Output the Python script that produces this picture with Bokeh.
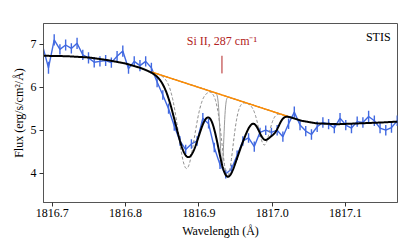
import numpy as np
from bokeh.plotting import figure
from bokeh.models import Range1d, Label, FixedTicker, NumeralTickFormatter
from bokeh.embed import file_html
from bokeh.resources import INLINE

# ---- observed spectrum (flux in units of 1e-11) ----
wave = [1816.6870, 1816.6948, 1816.7026, 1816.7104, 1816.7182, 1816.7260, 1816.7338,
        1816.7416, 1816.7494, 1816.7572, 1816.7650, 1816.7728, 1816.7806, 1816.7884,
        1816.7962, 1816.8040, 1816.8118, 1816.8196, 1816.8274, 1816.8352, 1816.8430,
        1816.8508, 1816.8586, 1816.8664, 1816.8742, 1816.8820, 1816.8898, 1816.8976,
        1816.9054, 1816.9132, 1816.9210, 1816.9288, 1816.9366, 1816.9444, 1816.9522,
        1816.9600, 1816.9678, 1816.9756, 1816.9834, 1816.9912, 1816.9990, 1817.0068,
        1817.0146, 1817.0224, 1817.0302, 1817.0380, 1817.0458, 1817.0536, 1817.0614,
        1817.0692, 1817.0770, 1817.0848, 1817.0926, 1817.1004, 1817.1082, 1817.1160,
        1817.1238, 1817.1316, 1817.1394, 1817.1472, 1817.1550, 1817.1628, 1817.1706]
flux = [6.95, 6.45, 7.10, 6.88, 6.98, 6.90, 7.02,
        6.75, 6.68, 6.58, 6.60, 6.62, 6.57, 6.72,
        6.84, 6.43, 6.60, 6.50, 6.60, 6.45, 6.12,
        5.82, 5.50, 5.10, 4.75, 4.55, 4.68, 4.75,
        5.28, 5.15, 4.60, 4.20, 3.98, 4.10, 4.42,
        4.75, 4.82, 4.62, 4.95, 5.00, 4.95, 5.00,
        4.85, 5.15, 5.42, 5.12, 4.98, 4.90, 5.08,
        5.18, 5.14, 5.05, 5.28, 5.12, 5.05, 5.20,
        5.18, 5.32, 5.22, 5.05, 5.00, 5.06, 5.22]
err = [0.13, 0.14, 0.13, 0.12, 0.13, 0.12, 0.13,
       0.12, 0.13, 0.12, 0.12, 0.13, 0.12, 0.12,
       0.13, 0.12, 0.12, 0.13, 0.12, 0.12, 0.12,
       0.11, 0.12, 0.11, 0.11, 0.11, 0.11, 0.11,
       0.12, 0.11, 0.11, 0.10, 0.10, 0.10, 0.11,
       0.11, 0.11, 0.12, 0.11, 0.11, 0.11, 0.12,
       0.12, 0.12, 0.13, 0.12, 0.12, 0.12, 0.12,
       0.12, 0.12, 0.12, 0.12, 0.12, 0.12, 0.12,
       0.12, 0.13, 0.12, 0.12, 0.12, 0.12, 0.12]

cont_wave = [1816.688, 1816.72, 1816.75, 1816.775, 1816.80, 1816.82, 1816.836,
             1817.025, 1817.04, 1817.06, 1817.09, 1817.12, 1817.15, 1817.171]
cont_flux = [6.73, 6.72, 6.69, 6.63, 6.55, 6.45, 6.35,
             5.30, 5.22, 5.16, 5.14, 5.16, 5.18, 5.20]
fit_window = [1816.836, 1817.025]

# ---- total fit (black): absorption lines (centre, fractional depth, sigma) ----
fit_center = [1816.885, 1816.937, 1816.958, 1816.990, 1817.005]
fit_depth = [0.28, 0.29, 0.12, 0.125, 0.05]
fit_sigma = [0.0165, 0.012, 0.012, 0.009, 0.006]

# ---- individual components (grey dashed) ----
comp_center = [1816.883, 1816.939, 1816.989]
comp_depth = [0.325, 0.32, 0.153]
comp_sigma = [0.011, 0.0075, 0.0072]

# ---- Si II 287 cm-1 component (grey solid) ----
si_center = 1816.9315
si_depth = 0.29
si_sigma = 0.0025
si_label = "Si II, 287 cm\u207b\u00b9"
marker_span = [6.32, 6.73]

FONT = "Liberation Serif"

p = figure(width=399, height=240, output_backend="svg", toolbar_location=None,
           x_range=Range1d(1816.688, 1817.171), y_range=Range1d(3.32, 7.48),
           min_border_left=43, min_border_right=2, min_border_top=23,
           min_border_bottom=34)
p.grid.visible = False
p.outline_line_color = "#555555"
p.background_fill_color = "white"

# model grids
mw = np.linspace(1816.688, 1817.171, 900)
cont = np.interp(mw, cont_wave, cont_flux)
tau = np.zeros_like(mw)
for c, d, s in zip(fit_center, fit_depth, fit_sigma):
    tau += d * np.exp(-0.5 * ((mw - c) / s) ** 2)
total = cont * (1 - tau)

ww = np.linspace(fit_window[0], fit_window[1], 500)
wcont = np.interp(ww, cont_wave, cont_flux)

# data with error bars
fl = np.array(flux)
er = np.array(err)
p.segment(x0=wave, y0=fl - er, x1=wave, y1=fl + er, line_color="#4169e1", line_width=1.4)
p.line(wave, flux, line_color="#4169e1", line_width=1.4)

# components
for c, d, s in zip(comp_center, comp_depth, comp_sigma):
    prof = wcont * (1 - d * np.exp(-0.5 * ((ww - c) / s) ** 2))
    p.line(ww, prof, line_color="#888888", line_width=1, line_dash="3 2")
si_prof = wcont * (1 - si_depth * np.exp(-0.5 * ((ww - si_center) / si_sigma) ** 2))
p.line(ww, si_prof, line_color="#999999", line_width=1)

# continuum in window
p.line(ww, wcont, line_color="#ff8c00", line_width=1.5)

# total fit
p.line(mw, total, line_color="black", line_width=2)

# Si II marker
p.segment(x0=[si_center], y0=[marker_span[0]], x1=[si_center], y1=[marker_span[1]],
          line_color="#b22222", line_width=1)
p.add_layout(Label(x=si_center, y=7.07, text=si_label, text_align="center",
                   text_baseline="middle", text_font=FONT, text_font_size="12px",
                   text_color="#b22222"))
p.add_layout(Label(x=1817.1616, y=7.16, text="STIS", text_align="right",
                   text_baseline="middle", text_font=FONT, text_font_size="12px",
                   text_color="black"))
p.add_layout(Label(x=1816.688, y=7.636, text="1e\u221211", text_align="left",
                   text_baseline="middle", text_font=FONT, text_font_size="12px",
                   text_color="black"))

# axes
p.xaxis.ticker = FixedTicker(ticks=[1816.7, 1816.8, 1816.9, 1817.0, 1817.1])
p.xaxis.formatter = NumeralTickFormatter(format="0.0")
p.yaxis.ticker = FixedTicker(ticks=[4, 5, 6, 7])
p.yaxis.formatter = NumeralTickFormatter(format="0")
p.xaxis.axis_label = "Wavelength (\u00c5)"
p.yaxis.axis_label = "Flux (erg/s/cm\u00b2/\u00c5)"
for ax in [p.xaxis[0], p.yaxis[0]]:
    ax.axis_line_color = "#555555"
    ax.major_tick_line_color = "#333333"
    ax.major_tick_in = 0
    ax.major_tick_out = 4
    ax.minor_tick_line_color = None
    ax.major_label_text_font = FONT
    ax.major_label_text_font_size = "12px"
    ax.major_label_text_color = "black"
    ax.axis_label_text_font = FONT
    ax.axis_label_text_font_size = "12px"
    ax.axis_label_text_font_style = "normal"
    ax.axis_label_text_color = "black"
p.xaxis.major_label_standoff = 2
p.xaxis.axis_label_standoff = 4
p.yaxis.major_label_standoff = 3
p.yaxis.axis_label_standoff = 2

open("out.html", "w").write(file_html(p, INLINE))
